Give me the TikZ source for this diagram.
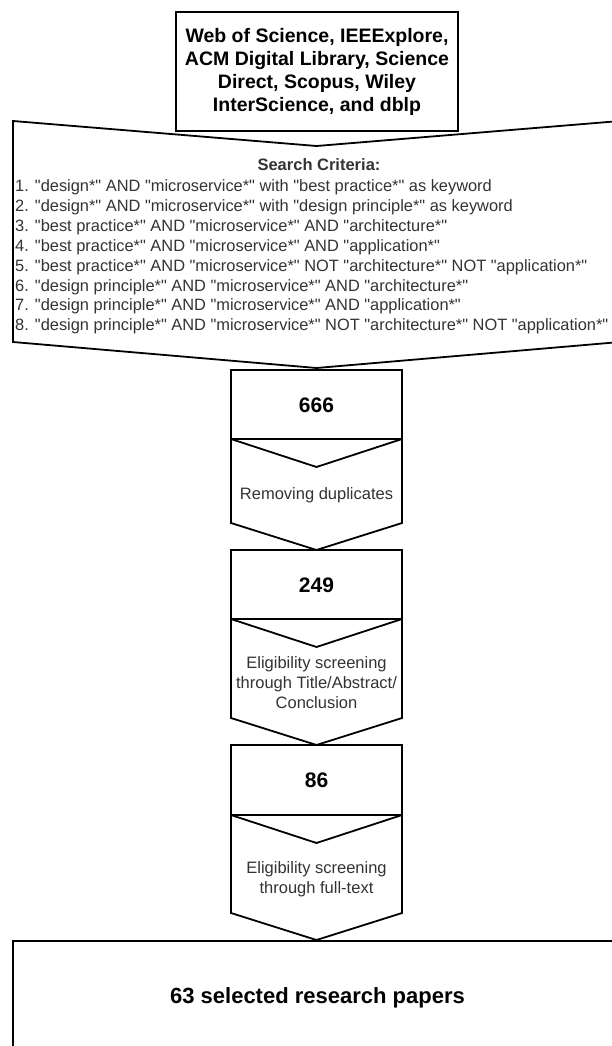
\documentclass[tikz,border=0pt]{standalone}
\usepackage{fontspec}
\setmainfont{Liberation Sans}[Ligatures=TeXOff]
\definecolor{inkgray}{HTML}{333333}
\begin{document}
\begin{tikzpicture}[x=1pt,y=-1pt,
  outline/.style={draw=black, line width=1.8pt, fill=white, line join=miter},
  headtext/.style={font=\bfseries\fontsize{19.5}{23}\selectfont, text=black, align=center, inner sep=0pt},
  counttext/.style={font=\bfseries\fontsize{21}{25}\selectfont, text=black, inner sep=0pt},
  finaltext/.style={font=\bfseries\fontsize{22}{26}\selectfont, text=black, inner sep=0pt},
  steptext/.style={font=\fontsize{16.5}{20}\selectfont, text=inkgray, align=center, inner sep=0pt},
  crittext/.style={font=\fontsize{16.4}{20}\selectfont, text=inkgray, inner sep=0pt, anchor=base west}]
\useasboundingbox (0,0) rectangle (612,1046);

% search criteria chevron
\draw[outline] (13,121) -- (316.5,146) -- (620,121) -- (620,342) -- (316.5,368) -- (13,342) -- cycle;
% database box
\draw[outline] (176,12) rectangle (458,131);
\node[headtext] (db) at (317,72) {Web of Science, IEEExplore,\\ACM Digital Library, Science\\Direct, Scopus, Wiley\\InterScience, and dblp};

\node[font=\bfseries\fontsize{16.5}{20}\selectfont, text=inkgray, inner sep=0pt] (crit) at (319,165) {Search Criteria:};
\node[crittext] (c1) at (15,191) {1. "design*" AND "microservice*" with "best practice*" as keyword};
\node[crittext] (c2) at (15,211) {2. "design*" AND "microservice*" with "design principle*" as keyword};
\node[crittext] (c3) at (15,231) {3. "best practice*" AND "microservice*" AND "architecture*"};
\node[crittext] (c4) at (15,251) {4. "best practice*" AND "microservice*" AND "application*"};
\node[crittext] (c5) at (15,271) {5. "best practice*" AND "microservice*" NOT "architecture*" NOT "application*"};
\node[crittext] (c6) at (15,291) {6. "design principle*" AND "microservice*" AND "architecture*"};
\node[crittext] (c7) at (15,310.5) {7. "design principle*" AND "microservice*" AND "application*"};
\node[crittext] (c8) at (15,330) {8. "design principle*" AND "microservice*" NOT "architecture*" NOT "application*"};

% stage 1
\draw[outline] (231,370) rectangle (402,439);
\node[counttext] (n666) at (316.5,405) {666};
\draw[outline] (231,439) -- (316.5,467) -- (402,439) -- (402,523) -- (316.5,550) -- (231,523) -- cycle;
\node[steptext] (dup) at (316.5,495) {Removing duplicates};

% stage 2
\draw[outline] (231,550) rectangle (402,619);
\node[counttext] (n249) at (316.5,585) {249};
\draw[outline] (231,619) -- (316.5,647) -- (402,619) -- (402,718) -- (316.5,745) -- (231,718) -- cycle;
\node[steptext] (abs) at (316.5,683) {Eligibility screening\\through Title/Abstract/\\Conclusion};

% stage 3
\draw[outline] (231,745) rectangle (402,815);
\node[counttext] (n86) at (316.5,780) {86};
\draw[outline] (231,815) -- (316.5,843) -- (402,815) -- (402,913) -- (316.5,940) -- (231,913) -- cycle;
\node[steptext] (full) at (316.5,879) {Eligibility screening\\through full-text};

% result
\draw[outline] (13,941) rectangle (621,1070);
\node[finaltext] (res) at (317.5,998) {63 selected research papers};
\end{tikzpicture}
\end{document}
